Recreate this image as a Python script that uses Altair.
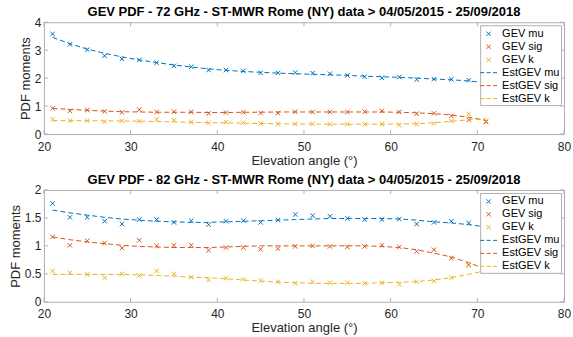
import altair as alt
import pandas as pd

elev = [21, 23, 25, 27, 29, 31, 33, 35, 37, 39, 41, 43, 45, 47, 49, 51, 53, 55, 57, 59, 61, 63, 65, 67, 69, 71]

# 72 GHz
mu72 = [3.58, 3.21, 3.02, 2.80, 2.69, 2.65, 2.55, 2.44, 2.41, 2.29, 2.29, 2.26, 2.19, 2.19, 2.20, 2.18, 2.16, 2.10, 2.05, 2.01, 2.04, 1.95, 1.96, 1.96, 1.93, 1.86]
sig72 = [0.92, 0.83, 0.86, 0.81, 0.78, 0.87, 0.79, 0.80, 0.79, 0.74, 0.77, 0.78, 0.75, 0.75, 0.80, 0.79, 0.79, 0.79, 0.80, 0.83, 0.79, 0.73, 0.74, 0.65, 0.51, 0.43]
k72 = [0.53, 0.48, 0.48, 0.44, 0.48, 0.46, 0.53, 0.49, 0.43, 0.40, 0.43, 0.41, 0.38, 0.35, 0.37, 0.37, 0.35, 0.35, 0.35, 0.36, 0.32, 0.36, 0.38, 0.47, 0.72, 0.46]
est_mu72 = [3.46, 3.23, 3.04, 2.89, 2.76, 2.65, 2.56, 2.47, 2.40, 2.33, 2.28, 2.24, 2.21, 2.18, 2.16, 2.14, 2.12, 2.10, 2.07, 2.05, 2.03, 2.00, 1.97, 1.94, 1.90, 1.84]
est_sig72 = [0.92, 0.88, 0.85, 0.82, 0.80, 0.79, 0.78, 0.78, 0.78, 0.77, 0.77, 0.78, 0.78, 0.79, 0.79, 0.79, 0.79, 0.79, 0.79, 0.79, 0.78, 0.76, 0.73, 0.68, 0.60, 0.49]
est_k72 = [0.48, 0.48, 0.48, 0.47, 0.47, 0.46, 0.45, 0.44, 0.42, 0.41, 0.40, 0.39, 0.38, 0.37, 0.36, 0.36, 0.35, 0.35, 0.35, 0.35, 0.36, 0.37, 0.40, 0.46, 0.51, 0.55]

# 82 GHz
mu82 = [1.76, 1.51, 1.51, 1.44, 1.39, 1.47, 1.47, 1.42, 1.45, 1.38, 1.44, 1.45, 1.42, 1.46, 1.56, 1.54, 1.53, 1.49, 1.47, 1.47, 1.48, 1.39, 1.42, 1.44, 1.41, 1.36]
sig82 = [1.16, 1.01, 1.09, 1.05, 0.96, 1.10, 1.00, 1.01, 1.01, 0.92, 0.97, 0.97, 0.94, 0.95, 0.99, 1.00, 0.99, 0.98, 0.99, 1.01, 0.98, 0.90, 0.93, 0.78, 0.66, 0.58]
k82 = [0.55, 0.52, 0.49, 0.43, 0.50, 0.47, 0.55, 0.50, 0.44, 0.39, 0.42, 0.40, 0.38, 0.36, 0.33, 0.36, 0.34, 0.34, 0.33, 0.34, 0.31, 0.36, 0.37, 0.43, 0.65, 0.60]
est_mu82 = [1.64, 1.59, 1.55, 1.51, 1.48, 1.46, 1.44, 1.43, 1.42, 1.42, 1.43, 1.44, 1.45, 1.46, 1.47, 1.48, 1.49, 1.49, 1.49, 1.49, 1.48, 1.46, 1.43, 1.41, 1.38, 1.34]
est_sig82 = [1.16, 1.11, 1.07, 1.04, 1.01, 0.99, 0.98, 0.97, 0.97, 0.97, 0.98, 0.99, 1.00, 1.00, 1.00, 1.00, 1.00, 1.00, 1.00, 0.99, 0.97, 0.93, 0.87, 0.80, 0.70, 0.58]
est_k82 = [0.49, 0.49, 0.49, 0.49, 0.49, 0.48, 0.47, 0.46, 0.44, 0.43, 0.41, 0.39, 0.37, 0.35, 0.34, 0.33, 0.33, 0.33, 0.33, 0.34, 0.35, 0.36, 0.39, 0.43, 0.49, 0.56]

point_names = ["GEV mu", "GEV sig", "GEV k"]
est_names = ["EstGEV mu", "EstGEV sig", "EstGEV k"]
all_names = point_names + est_names
colors = ["#0072BD", "#D95319", "#EDB120"] * 2
cross = "M-0.3,-0.3L0.3,0.3M-0.3,0.3L0.3,-0.3"
dash = "M-1.2,0L-0.63,0M-0.28,0L0.28,0M0.63,0L1.2,0"
shapes = [cross] * 3 + [dash] * 3

x_ticks = [20, 30, 40, 50, 60, 70, 80]
FONT = "Liberation Sans"
TXT = "#262626"
FRAME = "#b0b0b0"
W, H = 521, 112
TL = 4


def long_df(names, series):
    rows = []
    for name, vals in zip(names, series):
        for xv, yv in zip(elev, vals):
            rows.append({"x": xv, "v": yv, "s": name})
    return pd.DataFrame(rows)


def panel(title, pts_series, est_series, ymax, yticks):
    pts = long_df(point_names, pts_series)
    est = long_df(est_names, est_series)
    cscale = alt.Scale(domain=all_names, range=colors)
    sscale = alt.Scale(domain=all_names, range=shapes)
    leg = alt.Legend(title=None, orient="top-right", offset=3)
    xenc = alt.X("x:Q", scale=alt.Scale(domain=[20, 80], nice=False),
                 axis=alt.Axis(values=x_ticks, title="Elevation angle (°)"))
    yenc = alt.Y("v:Q", scale=alt.Scale(domain=[0, ymax], nice=False),
                 axis=alt.Axis(values=yticks, format="~g", title="PDF moments"))
    xt = pd.DataFrame({"x": x_ticks})
    yt = pd.DataFrame({"v": yticks})
    tick_top = alt.Chart(xt).mark_rule(color=FRAME, strokeWidth=1).encode(
        x=xenc, y=alt.value(0), y2=alt.value(TL))
    tick_bot = alt.Chart(xt).mark_rule(color=FRAME, strokeWidth=1).encode(
        x=xenc, y=alt.value(H - TL), y2=alt.value(H))
    tick_left = alt.Chart(yt).mark_rule(color=FRAME, strokeWidth=1).encode(
        y=yenc, x=alt.value(0), x2=alt.value(TL))
    tick_right = alt.Chart(yt).mark_rule(color=FRAME, strokeWidth=1).encode(
        y=yenc, x=alt.value(W - TL), x2=alt.value(W))
    lines = alt.Chart(est).mark_line(strokeDash=[5, 3], strokeWidth=1).encode(
        x=xenc, y=yenc, color=alt.Color("s:N", scale=cscale, legend=leg))
    points = alt.Chart(pts).mark_point(filled=False, size=220, strokeWidth=1, opacity=1).encode(
        x=xenc, y=yenc,
        color=alt.Color("s:N", scale=cscale, legend=leg),
        shape=alt.Shape("s:N", scale=sscale, legend=leg))
    return alt.layer(tick_top, tick_bot, tick_left, tick_right, points, lines).properties(
        width=W, height=H,
        title=alt.TitleParams(title, fontSize=13, fontWeight="bold", font=FONT,
                              color="black", offset=-3, anchor="middle"))


top = panel("GEV PDF - 72 GHz - ST-MWR Rome (NY) data > 04/05/2015 - 25/09/2018",
            [mu72, sig72, k72], [est_mu72, est_sig72, est_k72], 4, [0, 1, 2, 3, 4])
bottom = panel("GEV PDF - 82 GHz - ST-MWR Rome (NY) data > 04/05/2015 - 25/09/2018",
               [mu82, sig82, k82], [est_mu82, est_sig82, est_k82], 2, [0, 0.5, 1, 1.5, 2])

chart = alt.vconcat(top, bottom, spacing=56, bounds="flush").resolve_scale(
    color="independent", shape="independent"
).properties(
    padding={"left": 8, "top": 5, "right": 1, "bottom": 0},
    background="white",
).configure_view(
    stroke=FRAME, strokeWidth=1
).configure_axis(
    grid=False, domain=False, ticks=False, labelFlush=False,
    labelFont=FONT, labelFontSize=12, labelColor=TXT,
    titleFont=FONT, titleFontSize=13, titleColor=TXT, titleFontWeight="normal",
).configure_axisX(titlePadding=2, labelPadding=7).configure_axisY(titlePadding=2, labelPadding=3).configure_legend(
    fillColor="white", strokeColor=FRAME, padding=1, rowPadding=0,
    labelFont=FONT, labelFontSize=11, labelColor="black", labelOffset=6,
    symbolSize=196, symbolStrokeWidth=1,
)

chart.save("out.html", embed_options={"renderer": "svg", "actions": False})
